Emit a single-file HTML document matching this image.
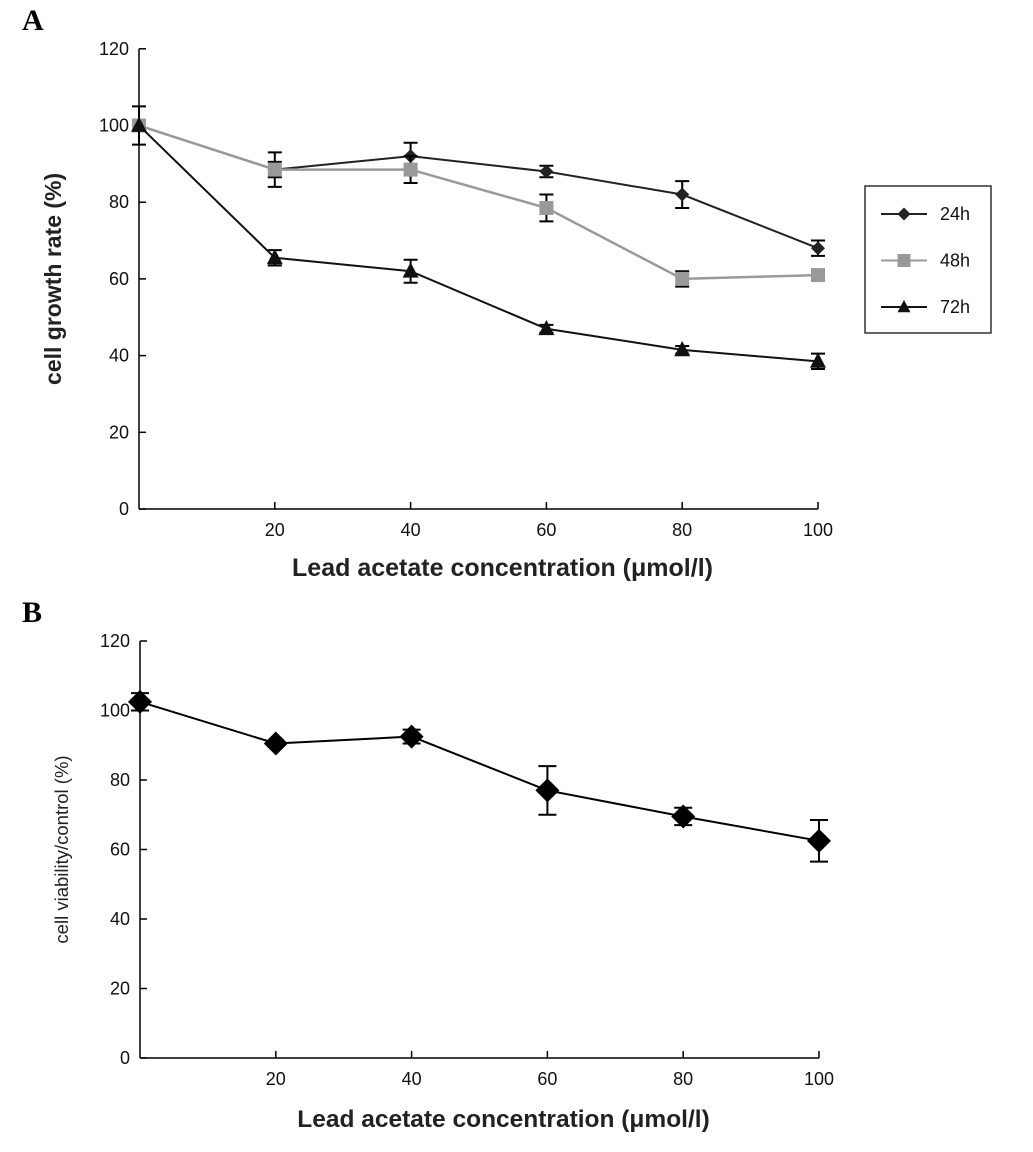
<!DOCTYPE html>
<html><head><meta charset="utf-8"><style>
body{margin:0;background:#fff;}
svg{display:block;font-family:"Liberation Sans",Arial,sans-serif;}
</style></head><body>
<svg id="chart" width="1033" height="1152" viewBox="0 0 1033 1152">
<text x="22" y="30" font-family="Liberation Serif,serif" font-weight="bold" font-size="30">A</text>
<text x="22" y="622" font-family="Liberation Serif,serif" font-weight="bold" font-size="30">B</text>
<g id="pa"></g>
<g id="pb"></g>
<g>
<rect x="865" y="186" width="126" height="147" fill="#fff" stroke="#000" stroke-width="1.2"/>
<g id="leg"></g>
</g>
</svg>
<script>
const xCats=[0,20,40,60,80,100];
const xTickLabels=["20","40","60","80","100"];
const yTicks=[0,20,40,60,80,100,120];
const seriesNames=["24h","48h","72h"];
const s24=[100,88.5,92,88,82,68];
const e24=[0,2,3.5,1.5,3.5,2];
const s48=[100,88.5,88.5,78.5,60,61];
const e48=[1.5,4.5,3.5,3.5,2,1];
const s72=[100,65.5,62,47,41.5,38.5];
const e72=[5,2,3,1,1,2];
const bVals=[102.5,90.5,92.5,77,69.5,62.5];
const bErr=[2.5,0,2,7,2.5,6];

const NS="http://www.w3.org/2000/svg";
function mk(p,t,a){const e=document.createElementNS(NS,t);for(const k in a)e.setAttribute(k,a[k]);p.appendChild(e);return e;}

function axes(g,X,Y,yLabel,yFont,yBold,xTitleY,yTitleX,xFont){
  const ax=mk(g,'line',{x1:X(0),y1:Y(120),x2:X(0),y2:Y(0),stroke:'#000','stroke-width':1.5});
  
  const bx=mk(g,'line',{x1:X(0),y1:Y(0),x2:X(100),y2:Y(0),stroke:'#000','stroke-width':1.5});
  
  yTicks.forEach(v=>{
    mk(g,'line',{x1:X(0),y1:Y(v),x2:X(0)+7,y2:Y(v),stroke:'#000','stroke-width':1.5});
    const t=mk(g,'text',{x:X(0)-10,y:Y(v)+6,'text-anchor':'end','font-size':18,fill:'#111'});
    t.textContent=v;
    
  });
  xCats.slice(1).forEach((v,i)=>{
    mk(g,'line',{x1:X(v),y1:Y(0),x2:X(v),y2:Y(0)-7,stroke:'#000','stroke-width':1.5});
    const t=mk(g,'text',{x:X(v),y:Y(0)+27,'text-anchor':'middle','font-size':18,fill:'#111'});
    t.textContent=xTickLabels[i];
    
  });
  const xt=mk(g,'text',{x:(X(0)+X(100))/2+24,y:xTitleY,'text-anchor':'middle','font-size':xFont,'font-weight':'bold',fill:'#222'});
  xt.textContent='Lead acetate concentration (μmol/l)';
  
  const cy=(Y(0)+Y(120))/2;
  const yt=mk(g,'text',{x:yTitleX,y:cy,'text-anchor':'middle','font-size':yFont,'font-weight':yBold?'bold':'normal',fill:'#222',transform:`rotate(-90 ${yTitleX} ${cy})`});
  yt.textContent=yLabel;
  
}
function marker(g,type,x,y,s,col){
  let e;
  if(type==='d') e=mk(g,'polygon',{points:`${x},${y-s} ${x+s},${y} ${x},${y+s} ${x-s},${y}`,fill:col});
  else if(type==='s') e=mk(g,'rect',{x:x-s,y:y-s,width:2*s,height:2*s,fill:col});
  else e=mk(g,'polygon',{points:`${x},${y-s*1.1} ${x+s},${y+s*0.8} ${x-s},${y+s*0.8}`,fill:col});
  return e;
}
function series(g,X,Y,vals,errs,col,w,type,ms,name,cap){
  const pts=vals.map((v,i)=>X(xCats[i])+','+Y(v)).join(' ');
  const l=mk(g,'polyline',{points:pts,fill:'none',stroke:col,'stroke-width':w});
  
  vals.forEach((v,i)=>{
    const x=X(xCats[i]);
    if(errs[i]>0){
      const eg=mk(g,'path',{d:`M${x},${Y(v+errs[i])}V${Y(v-errs[i])}M${x-cap},${Y(v+errs[i])}h${2*cap}M${x-cap},${Y(v-errs[i])}h${2*cap}`,stroke:'#000','stroke-width':2,fill:'none'});
      
    }
    const m=marker(g,type,x,Y(v),ms,col);
    
  });
}
// Panel A
const XA=v=>139+v*6.79, YA=v=>509-v*3.835;
const ga=document.getElementById('pa');
axes(ga,XA,YA,'cell growth rate (%)',23,true,576,61,25);
series(ga,XA,YA,s24,e24,'#222',2,'d',7,'series-24h',7);
series(ga,XA,YA,s48,e48,'#999',2.5,'s',7,'series-48h',7);
series(ga,XA,YA,s72,e72,'#111',2,'t',8,'series-72h',7);
// Legend
const lg=document.getElementById('leg');
const lcols=['#222','#999','#111'],ltypes=['d','s','t'];
seriesNames.forEach((n,i)=>{
  const y=214+i*46.5;
  mk(lg,'line',{x1:881,y1:y,x2:927,y2:y,stroke:lcols[i],'stroke-width':2});
  marker(lg,ltypes[i],904,y,6.5,lcols[i]);
  const t=mk(lg,'text',{x:940,y:y+6,'font-size':18,fill:'#111'});
  t.textContent=n;
  
});
// Panel B
const XB=v=>140+v*6.79, YB=v=>1058-v*3.475;
const gb=document.getElementById('pb');
axes(gb,XB,YB,'cell viability/control (%)',18.5,false,1127,68,24.5);
series(gb,XB,YB,bVals,bErr,'#000',2,'d',12,'viability',9);
</script>
</body></html>
